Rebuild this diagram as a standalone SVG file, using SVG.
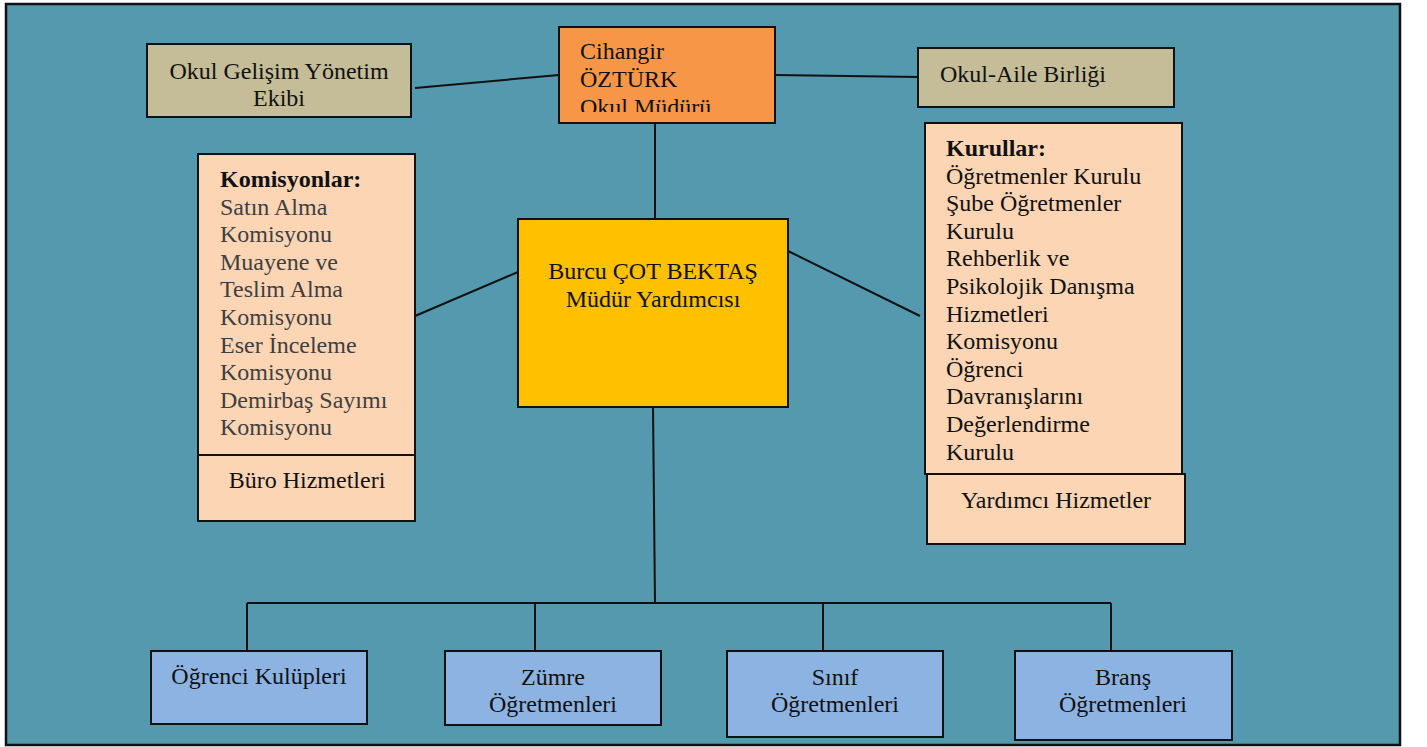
<svg xmlns="http://www.w3.org/2000/svg" width="1427" height="747" viewBox="0 0 1427 747">
<style>
  .box { stroke: #111; stroke-width: 2; }
  .tan { fill: #C4BD97; }
  .peach { fill: #FCD5B5; }
  .blue { fill: #8DB3E2; }
  .conn line, .conn path { stroke: #111; stroke-width: 2; fill: none; }
  text { font-family: "Liberation Serif", "Times New Roman", serif; font-size: 24px; fill: #111; }
  .c { text-anchor: middle; }
  .gray { fill: #3f3f3f; }
  .b { font-weight: bold; }
</style>
<defs>
  <clipPath id="clipMudur"><rect x="560" y="28" width="215" height="84"/></clipPath>
</defs>
<rect x="0" y="0" width="1427" height="747" fill="#ffffff"/>
<rect id="frame" x="6" y="4" width="1394" height="741" fill="#5499AE" stroke="#111" stroke-width="2.5"/>

<g id="connectors" class="conn">
  <line x1="415" y1="88" x2="559" y2="75"/>
  <line x1="775" y1="75" x2="919" y2="77"/>
  <line x1="655" y1="123" x2="655" y2="219"/>
  <line x1="415" y1="316" x2="518" y2="272"/>
  <line x1="788" y1="251" x2="920" y2="316"/>
  <line x1="653" y1="407" x2="655" y2="603"/>
  <line x1="247" y1="603" x2="1111" y2="603"/>
  <line x1="247" y1="603" x2="247" y2="651"/>
  <line x1="535" y1="603" x2="535" y2="651"/>
  <line x1="823" y1="603" x2="823" y2="651"/>
  <line x1="1111" y1="603" x2="1111" y2="651"/>
</g>

<g id="okul-gelisim">
  <rect class="box tan" x="147" y="44" width="264" height="73"/>
  <text class="c" x="279" y="79">Okul Gelişim Yönetim</text>
  <text class="c" x="279" y="106">Ekibi</text>
</g>

<g id="mudur">
  <rect class="box" fill="#F79646" x="559" y="27" width="216" height="96"/>
  <g clip-path="url(#clipMudur)">
    <text x="580" y="59">Cihangir</text>
    <text x="580" y="87">ÖZTÜRK</text>
    <text x="580" y="115">Okul Müdürü</text>
  </g>
</g>

<g id="okul-aile">
  <rect class="box tan" x="918" y="48" width="256" height="59"/>
  <text x="940" y="82">Okul-Aile Birliği</text>
</g>

<g id="komisyonlar">
  <rect class="box peach" x="198" y="154" width="217" height="301"/>
  <text x="220" y="187"><tspan class="b">Komisyonlar:</tspan>
    <tspan class="gray" x="220" dy="27.6">Satın Alma</tspan>
    <tspan class="gray" x="220" dy="27.6">Komisyonu</tspan>
    <tspan class="gray" x="220" dy="27.6">Muayene ve</tspan>
    <tspan class="gray" x="220" dy="27.6">Teslim Alma</tspan>
    <tspan class="gray" x="220" dy="27.6">Komisyonu</tspan>
    <tspan class="gray" x="220" dy="27.6">Eser İnceleme</tspan>
    <tspan class="gray" x="220" dy="27.6">Komisyonu</tspan>
    <tspan class="gray" x="220" dy="27.6">Demirbaş Sayımı</tspan>
    <tspan class="gray" x="220" dy="27.6">Komisyonu</tspan></text>
</g>

<g id="buro">
  <rect class="box peach" x="198" y="455" width="217" height="66"/>
  <text class="c" x="307" y="488">Büro Hizmetleri</text>
</g>

<g id="mudur-yardimcisi">
  <rect class="box" fill="#FFC000" x="518" y="219" width="270" height="188"/>
  <text class="c" x="653" y="279">Burcu ÇOT BEKTAŞ</text>
  <text class="c" x="653" y="307">Müdür Yardımcısı</text>
</g>

<g id="kurullar">
  <rect class="box peach" x="925" y="123" width="257" height="351"/>
  <text x="946" y="156"><tspan class="b">Kurullar:</tspan>
    <tspan x="946" dy="27.6">Öğretmenler Kurulu</tspan>
    <tspan x="946" dy="27.6">Şube Öğretmenler</tspan>
    <tspan x="946" dy="27.6">Kurulu</tspan>
    <tspan x="946" dy="27.6">Rehberlik ve</tspan>
    <tspan x="946" dy="27.6">Psikolojik Danışma</tspan>
    <tspan x="946" dy="27.6">Hizmetleri</tspan>
    <tspan x="946" dy="27.6">Komisyonu</tspan>
    <tspan x="946" dy="27.6">Öğrenci</tspan>
    <tspan x="946" dy="27.6">Davranışlarını</tspan>
    <tspan x="946" dy="27.6">Değerlendirme</tspan>
    <tspan x="946" dy="27.6">Kurulu</tspan></text>
</g>

<g id="yardimci">
  <rect class="box peach" x="927" y="474" width="258" height="70"/>
  <text class="c" x="1056" y="508">Yardımcı Hizmetler</text>
</g>

<g id="ogrenci-kulupleri">
  <rect class="box blue" x="151" y="651" width="216" height="73"/>
  <text class="c" x="259" y="684">Öğrenci Kulüpleri</text>
</g>

<g id="zumre">
  <rect class="box blue" x="445" y="651" width="216" height="74"/>
  <text class="c" x="553" y="685">Zümre</text>
  <text class="c" x="553" y="712">Öğretmenleri</text>
</g>

<g id="sinif">
  <rect class="box blue" x="727" y="651" width="216" height="86"/>
  <text class="c" x="835" y="685">Sınıf</text>
  <text class="c" x="835" y="712">Öğretmenleri</text>
</g>

<g id="brans">
  <rect class="box blue" x="1015" y="651" width="217" height="89"/>
  <text class="c" x="1123" y="685">Branş</text>
  <text class="c" x="1123" y="712">Öğretmenleri</text>
</g>
</svg>
